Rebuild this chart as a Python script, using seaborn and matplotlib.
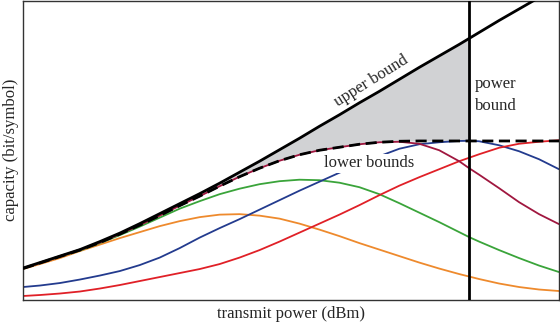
import numpy as np
import pandas as pd
import matplotlib
matplotlib.use("Agg")
import matplotlib.pyplot as plt
import seaborn as sns

# ---- data (arbitrary units) ----
power = [23, 40, 60, 80, 100, 120, 140, 160, 180, 200, 220, 240, 260, 280, 300,
         320, 340, 360, 380, 400, 420, 440, 460, 470, 480, 500, 520, 540, 560]
upper_bound = [32, 37.5, 44, 50.5, 58.5, 67, 76.5, 86.5, 96.5, 106.5, 117, 128, 139, 150.5, 162,
               174, 185.5, 197.5, 209, 221, 233, 244.5, 256, 262, 268, 280, 291.5, 303, 315]
lower_envelope = [31.5, 37, 43.5, 50, 57.5, 66, 75, 84.5, 94.5, 104, 114, 123.5, 132, 139.5, 145.5,
                  150, 153, 156, 158, 159, 159.3, 159.3, 159.3, 159.3, 159.3, 159.3, 159.3, 159.3, 159.3]
orange_lb = [31, 36, 42, 49, 55.5, 62, 68, 74, 79, 83, 85.5, 86, 84.5, 81.5, 76.5,
             70.5, 64, 57, 50.5, 44, 37.5, 31.5, 26, 23.5, 21, 16.5, 13, 10.5, 9]
green_lb = [31.5, 37, 43.5, 49.5, 57, 65, 73.5, 82.5, 91.5, 99, 106, 111.5, 116, 119, 120.5,
            120, 117.5, 113, 106, 97, 87.5, 78, 68, 63, 58.5, 50, 42, 34.5, 28]
crimson_lb = [31.5, 37, 43.5, 50, 57.5, 66, 75, 84.5, 94.5, 104, 114, 123.5, 132, 139.5, 145.5,
              150, 153, 156, 158, 158.5, 156.5, 150, 139, 132, 125.5, 112, 98, 86, 76]
blue_lb = [13, 14.5, 17, 20.5, 24.5, 29, 35, 42.5, 52, 62.5, 72, 81, 90.5, 100, 109.5,
           118.5, 127.5, 136, 144, 151.5, 156, 158, 159.3, 159.5, 159, 155, 149, 141, 131]
red_lb = [4, 5, 6.5, 8.5, 11.5, 15, 19, 23, 27, 31, 36, 42.5, 50, 58.5, 67.5,
          76.5, 85.5, 95, 105, 114.5, 123, 131, 139, 142.5, 146, 152.5, 156.5, 158.5, 160]
power_bound = 470

series_names = ["orange", "green", "blue", "red", "crimson"]
series_values = [orange_lb, green_lb, blue_lb, red_lb, crimson_lb]
palette = {"orange": "#ee8a2d", "green": "#3aa43a", "blue": "#233b8e",
           "red": "#e02027", "crimson": "#a0173f"}

# ---- style ----
sns.set_style("white")
plt.rcParams["font.family"] = ["Liberation Serif", "DejaVu Serif"]

fig = plt.figure(figsize=(5.6, 3.22), dpi=100)
ax = fig.add_axes([23 / 560, 22 / 322, 536 / 560, 299.5 / 322])

x = np.array(power, dtype=float)
up = np.array(upper_bound, dtype=float)
env = np.array(lower_envelope, dtype=float)

# shaded gap between bounds, up to the power bound
ax.fill_between(x, env, up, where=x <= power_bound, color="#d1d2d4", lw=0, zorder=1)

df = pd.DataFrame({
    "power": np.tile(x, len(series_names)),
    "capacity": np.concatenate([np.array(v, dtype=float) for v in series_values]),
    "scheme": np.repeat(series_names, len(x)),
})
sns.lineplot(data=df, x="power", y="capacity", hue="scheme", palette=palette,
             hue_order=series_names, linewidth=1.3, legend=False, ax=ax,
             estimator=None, sort=True, zorder=2)
for ln in ax.lines:
    ln.set_solid_joinstyle("round")

sns.lineplot(x=x, y=env, color="black", linewidth=2, ax=ax, estimator=None, zorder=3)
ax.lines[-1].set_dashes([4, 2])
sns.lineplot(x=x, y=up, color="black", linewidth=2, ax=ax, estimator=None, zorder=4)
ax.axvline(power_bound, color="black", linewidth=2, zorder=4)

ax.set_xlim(23, 560)
ax.set_ylim(0, 300)
ax.set_xticks([])
ax.set_yticks([])
for s in ax.spines.values():
    s.set_color("#333333")
    s.set_linewidth(1)

ax.set_xlabel("transmit power (dBm)", fontsize=12, labelpad=4)
ax.set_ylabel("capacity (bit/symbol)", fontsize=12, labelpad=3)

ax.text(372, 219, "upper bound", fontsize=12, rotation=32, ha="center", va="center",
        rotation_mode="anchor", zorder=5)
ax.text(476, 205, "power\nbound", fontsize=12, ha="left", va="center",
        linespacing=1.5, zorder=5)
ax.text(370, 137, "lower bounds", fontsize=12, ha="center", va="center", zorder=5,
        bbox=dict(facecolor="white", edgecolor="none", pad=1))

fig.savefig("out.png", dpi=100)
